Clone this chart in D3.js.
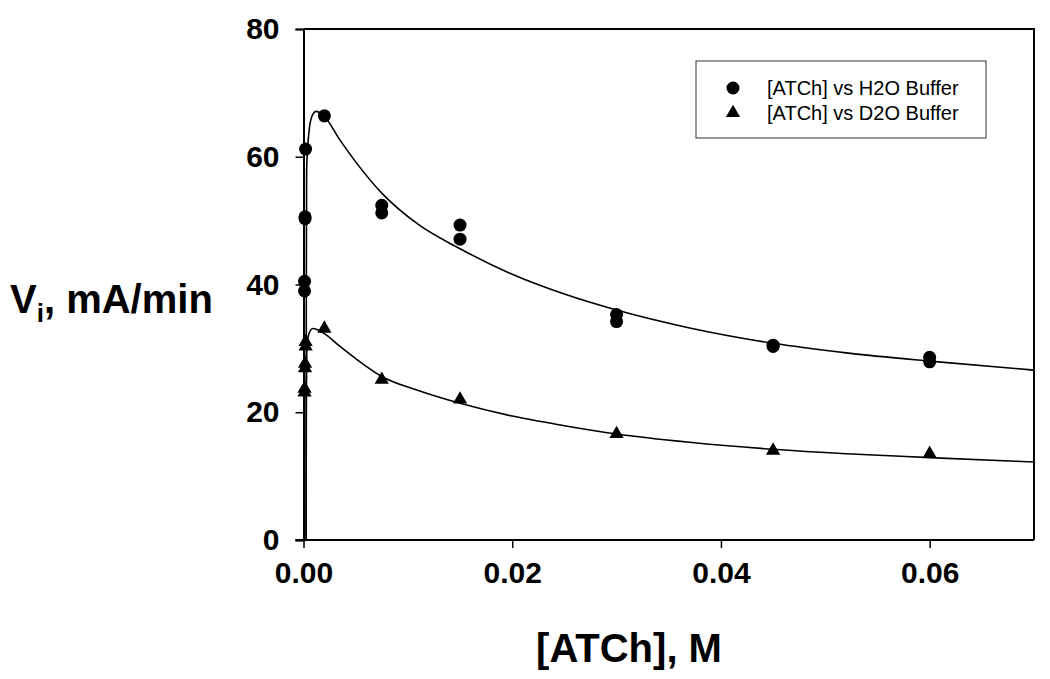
<!DOCTYPE html>
<html>
<head>
<meta charset="utf-8">
<script src="https://cdn.jsdelivr.net/npm/d3@7"></script>
<style>
  body { margin: 0; background: #fff; }
  text { font-family: "Liberation Sans", Arial, sans-serif; }
</style>
</head>
<body>
<div id="chart"></div>
<script>
var h2oX = [0.0001, 0.0001, 0.00015, 0.00015, 0.0002, 0.002, 0.0075, 0.0075, 0.015, 0.015, 0.03, 0.03, 0.045, 0.045, 0.06, 0.06];
var h2oY = [39.0, 40.5, 50.3, 50.6, 61.2, 66.4, 52.4, 51.2, 49.3, 47.1, 35.3, 34.2, 30.5, 30.3, 28.6, 27.9];
var d2oX = [0.0001, 0.0001, 0.00015, 0.00015, 0.0002, 0.0002, 0.002, 0.0075, 0.015, 0.03, 0.045, 0.06];
var d2oY = [23.1, 23.7, 26.9, 27.6, 30.3, 31.0, 33.1, 25.1, 22.0, 16.6, 14.0, 13.5];

// fitted curves
var fitH2oX = [0.00025, 0.00027, 0.0003, 0.0005, 0.0008, 0.0012, 0.002, 0.0035, 0.005, 0.0075, 0.011, 0.015, 0.02, 0.025, 0.03, 0.037, 0.045, 0.052, 0.06, 0.07];
var fitH2oY = [0, 40, 58, 63.5, 66.3, 67.1, 66.3, 62.6, 59.2, 54.3, 49.4, 45.6, 41.6, 38.5, 36.0, 33.2, 30.8, 29.3, 28.0, 26.6];
var fitD2oX = [0.00025, 0.00027, 0.0003, 0.0005, 0.0009, 0.002, 0.0035, 0.005, 0.0075, 0.011, 0.015, 0.02, 0.025, 0.03, 0.037, 0.045, 0.052, 0.06, 0.07];
var fitD2oY = [0, 20, 29, 32.2, 33.1, 32.3, 30.3, 28.4, 25.6, 23.4, 21.4, 19.4, 17.9, 16.6, 15.3, 14.2, 13.5, 12.9, 12.2];

var xTicks = [0, 0.02, 0.04, 0.06];
var yTicks = [0, 20, 40, 60, 80];
var legendNames = ["[ATCh] vs H2O Buffer", "[ATCh] vs D2O Buffer"];

var width = 1050, height = 679;
var pLeft = 303.5, pRight = 1034, pTop = 29, pBottom = 540;

var svg = d3.select("#chart").append("svg")
    .attr("width", width)
    .attr("height", height);

var x = d3.scaleLinear().domain([0, 0.07]).range([pLeft, pRight]);
var y = d3.scaleLinear().domain([0, 80]).range([pBottom, pTop]);

// frame top + right
svg.append("path")
    .attr("d", "M" + pLeft + "," + pTop + "H" + pRight + "V" + pBottom)
    .attr("fill", "none")
    .attr("stroke", "#000")
    .attr("stroke-width", 2);

var xAxis = svg.append("g")
    .attr("transform", "translate(0," + pBottom + ")")
    .call(d3.axisBottom(x).tickValues(xTicks).tickFormat(d3.format(".2f")).tickSizeOuter(0).tickSize(8).tickPadding(14));
var yAxis = svg.append("g")
    .attr("transform", "translate(" + pLeft + ",0)")
    .call(d3.axisLeft(y).tickValues(yTicks).tickSizeOuter(0).tickSize(8).tickPadding(16));

[xAxis, yAxis].forEach(function(g) {
    g.select(".domain").attr("stroke-width", 2);
    g.selectAll(".tick line").attr("stroke-width", 1.5);
    g.selectAll(".tick text")
        .attr("font-size", "30px")
        .attr("font-weight", "bold")
        .attr("font-family", "Liberation Sans, Arial, sans-serif")
        .attr("fill", "#000");
});
// x axis line runs a bit past the y axis, as in the reference
xAxis.select(".domain").attr("d", "M" + (pLeft - 8) + ",0H" + pRight);

// fitted lines
var line = d3.line().curve(d3.curveMonotoneX);
function fitPoints(xs, ys) {
    return xs.map(function(d, i) { return [x(d), y(ys[i])]; });
}
svg.append("path")
    .attr("d", line(fitPoints(fitH2oX, fitH2oY)))
    .attr("fill", "none").attr("stroke", "#000").attr("stroke-width", 1.6);
svg.append("path")
    .attr("d", line(fitPoints(fitD2oX, fitD2oY)))
    .attr("fill", "none").attr("stroke", "#000").attr("stroke-width", 1.6);

// markers
var circ = d3.symbol().type(d3.symbolCircle).size(133);
var tri = d3.symbol().type(d3.symbolTriangle).size(88);

svg.append("g").selectAll("path")
    .data(h2oX)
    .join("path")
    .attr("d", circ)
    .attr("transform", function(d, i) { return "translate(" + x(d) + "," + y(h2oY[i]) + ")"; })
    .attr("fill", "#000");

svg.append("g").selectAll("path")
    .data(d2oX)
    .join("path")
    .attr("d", tri)
    .attr("transform", function(d, i) { return "translate(" + x(d) + "," + y(d2oY[i]) + ")"; })
    .attr("fill", "#000");

// legend
var legend = svg.append("g");
legend.append("rect")
    .attr("x", 696).attr("y", 61)
    .attr("width", 290).attr("height", 77)
    .attr("fill", "#fff")
    .attr("stroke", "#333")
    .attr("stroke-width", 1);
legend.append("path").attr("d", circ).attr("transform", "translate(733,88)");
legend.append("path").attr("d", tri).attr("transform", "translate(733,113)");
legendNames.forEach(function(name, i) {
    legend.append("text")
        .attr("x", 767)
        .attr("y", 95 + i * 25)
        .attr("font-size", "20px")
        .attr("fill", "#000")
        .text(name);
});

// axis titles
svg.append("text")
    .attr("x", 629).attr("y", 662)
    .attr("text-anchor", "middle")
    .attr("font-size", "40px")
    .attr("font-weight", "bold")
    .text("[ATCh], M");

var yt = svg.append("text")
    .attr("x", 10).attr("y", 313)
    .attr("font-size", "40px")
    .attr("font-weight", "bold");
yt.append("tspan").text("V");
yt.append("tspan").attr("dy", 9).attr("font-size", "26px").text("i");
yt.append("tspan").attr("dy", -9).text(", mA/min");
</script>
</body>
</html>
